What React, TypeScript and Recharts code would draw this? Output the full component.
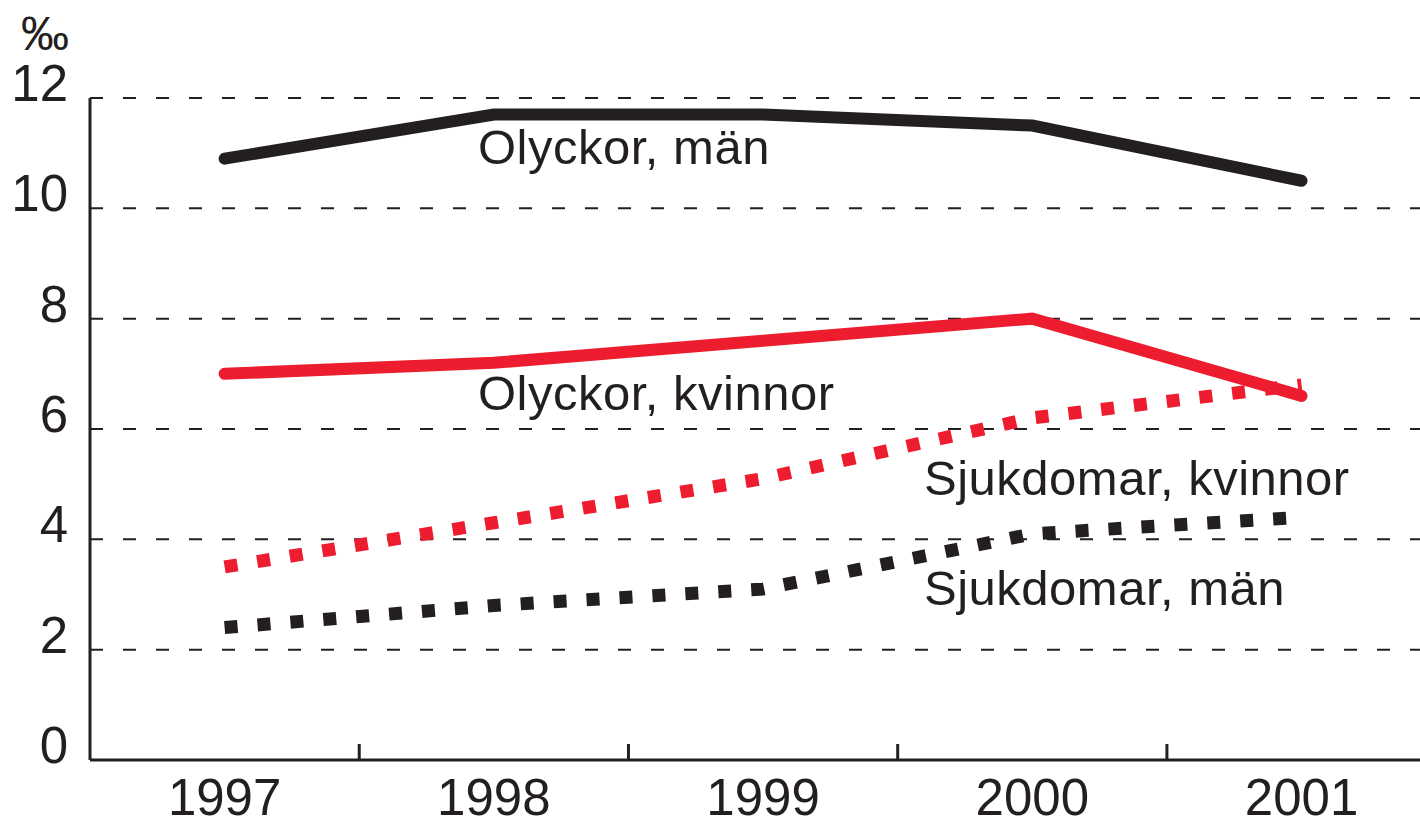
import React from 'react';
import { LineChart, Line, XAxis, YAxis, CartesianGrid, Customized } from 'recharts';

const years = [1997, 1998, 1999, 2000, 2001];
const olyckorMan = [10.9, 11.7, 11.7, 11.5, 10.5];
const olyckorKvinnor = [7.0, 7.2, 7.6, 8.0, 6.6];
const sjukdomarKvinnor = [3.5, 4.3, 5.1, 6.2, 6.8];
const sjukdomarMan = [2.4, 2.8, 3.1, 4.1, 4.4];
const yTicks = [0, 2, 4, 6, 8, 10, 12];
const xTicks = [1997, 1997.5, 1998, 1998.5, 1999, 1999.5, 2000, 2000.5, 2001];

const seriesLabels = [
  { text: 'Olyckor, män', x: 478, y: 164 },
  { text: 'Olyckor, kvinnor', x: 478, y: 410 },
  { text: 'Sjukdomar, kvinnor', x: 924, y: 495 },
  { text: 'Sjukdomar, män', x: 924, y: 605 },
];

const data = years.map((y, i) => ({
  year: y,
  om: olyckorMan[i],
  ok: olyckorKvinnor[i],
  sk: sjukdomarKvinnor[i],
  sm: sjukdomarMan[i],
}));

const INK = '#231f20';
const RED = '#ed1c2e';
const FONT = '"Liberation Sans", Arial, Helvetica, sans-serif';

const XTick = (props: any) => {
  const { x, y, payload } = props;
  const v = payload.value as number;
  if (Number.isInteger(v)) {
    return (
      <text x={x} y={y + 55} textAnchor="middle" fontSize={51} fill={INK} fontFamily={FONT}>
        {v}
      </text>
    );
  }
  return <line x1={x} x2={x} y1={y} y2={y - 16} stroke={INK} strokeWidth={3} />;
};

const YTick = (props: any) => {
  const { x, y, payload } = props;
  return (
    <text x={x} y={y + 3} textAnchor="end" fontSize={51} fill={INK} fontFamily={FONT}>
      {payload.value}
    </text>
  );
};

const Labels = () => (
  <g fontFamily={FONT} fill={INK}>
    <text x={21} y={50} fontSize={48}>‰</text>
    {seriesLabels.map((l) => (
      <text key={l.text} x={l.x} y={l.y} fontSize={49} letterSpacing={0.5}>
        {l.text}
      </text>
    ))}
  </g>
);

export default function App() {
  return (
    <div style={{ position: 'absolute', left: 0, top: 0, background: '#fff' }}>
      <LineChart
        width={1420}
        height={821}
        data={data}
        margin={{ top: 98, right: 0, left: 0, bottom: 0 }}
      >
        <CartesianGrid
          horizontal
          vertical={false}
          stroke={INK}
          strokeWidth={2}
          strokeDasharray="13 20"
        />
        <XAxis
          dataKey="year"
          type="number"
          domain={[1996.5, 2001.44]}
          allowDataOverflow
          ticks={xTicks}
          interval={0}
          height={61}
          tickLine={false}
          tickSize={0}
          tickMargin={0}
          axisLine={{ stroke: INK, strokeWidth: 3 }}
          tick={<XTick />}
        />
        <YAxis
          type="number"
          domain={[0, 12]}
          ticks={yTicks}
          interval={0}
          width={90}
          tickLine={false}
          tickSize={0}
          tickMargin={22}
          axisLine={{ stroke: INK, strokeWidth: 3 }}
          tick={<YTick />}
        />
        <Line
          type="linear"
          dataKey="om"
          stroke={INK}
          strokeWidth={12}
          strokeLinecap="round"
          dot={false}
          activeDot={false}
          isAnimationActive={false}
        />
        <Line
          type="linear"
          dataKey="ok"
          stroke={RED}
          strokeWidth={12}
          strokeLinecap="round"
          dot={false}
          activeDot={false}
          isAnimationActive={false}
        />
        <Line
          type="linear"
          dataKey="sk"
          stroke={RED}
          strokeWidth={13}
          strokeDasharray="13 20"
          dot={false}
          activeDot={false}
          isAnimationActive={false}
        />
        <Line
          type="linear"
          dataKey="sm"
          stroke={INK}
          strokeWidth={13}
          strokeDasharray="13 20"
          dot={false}
          activeDot={false}
          isAnimationActive={false}
        />
        <Customized component={Labels} />
      </LineChart>
    </div>
  );
}
